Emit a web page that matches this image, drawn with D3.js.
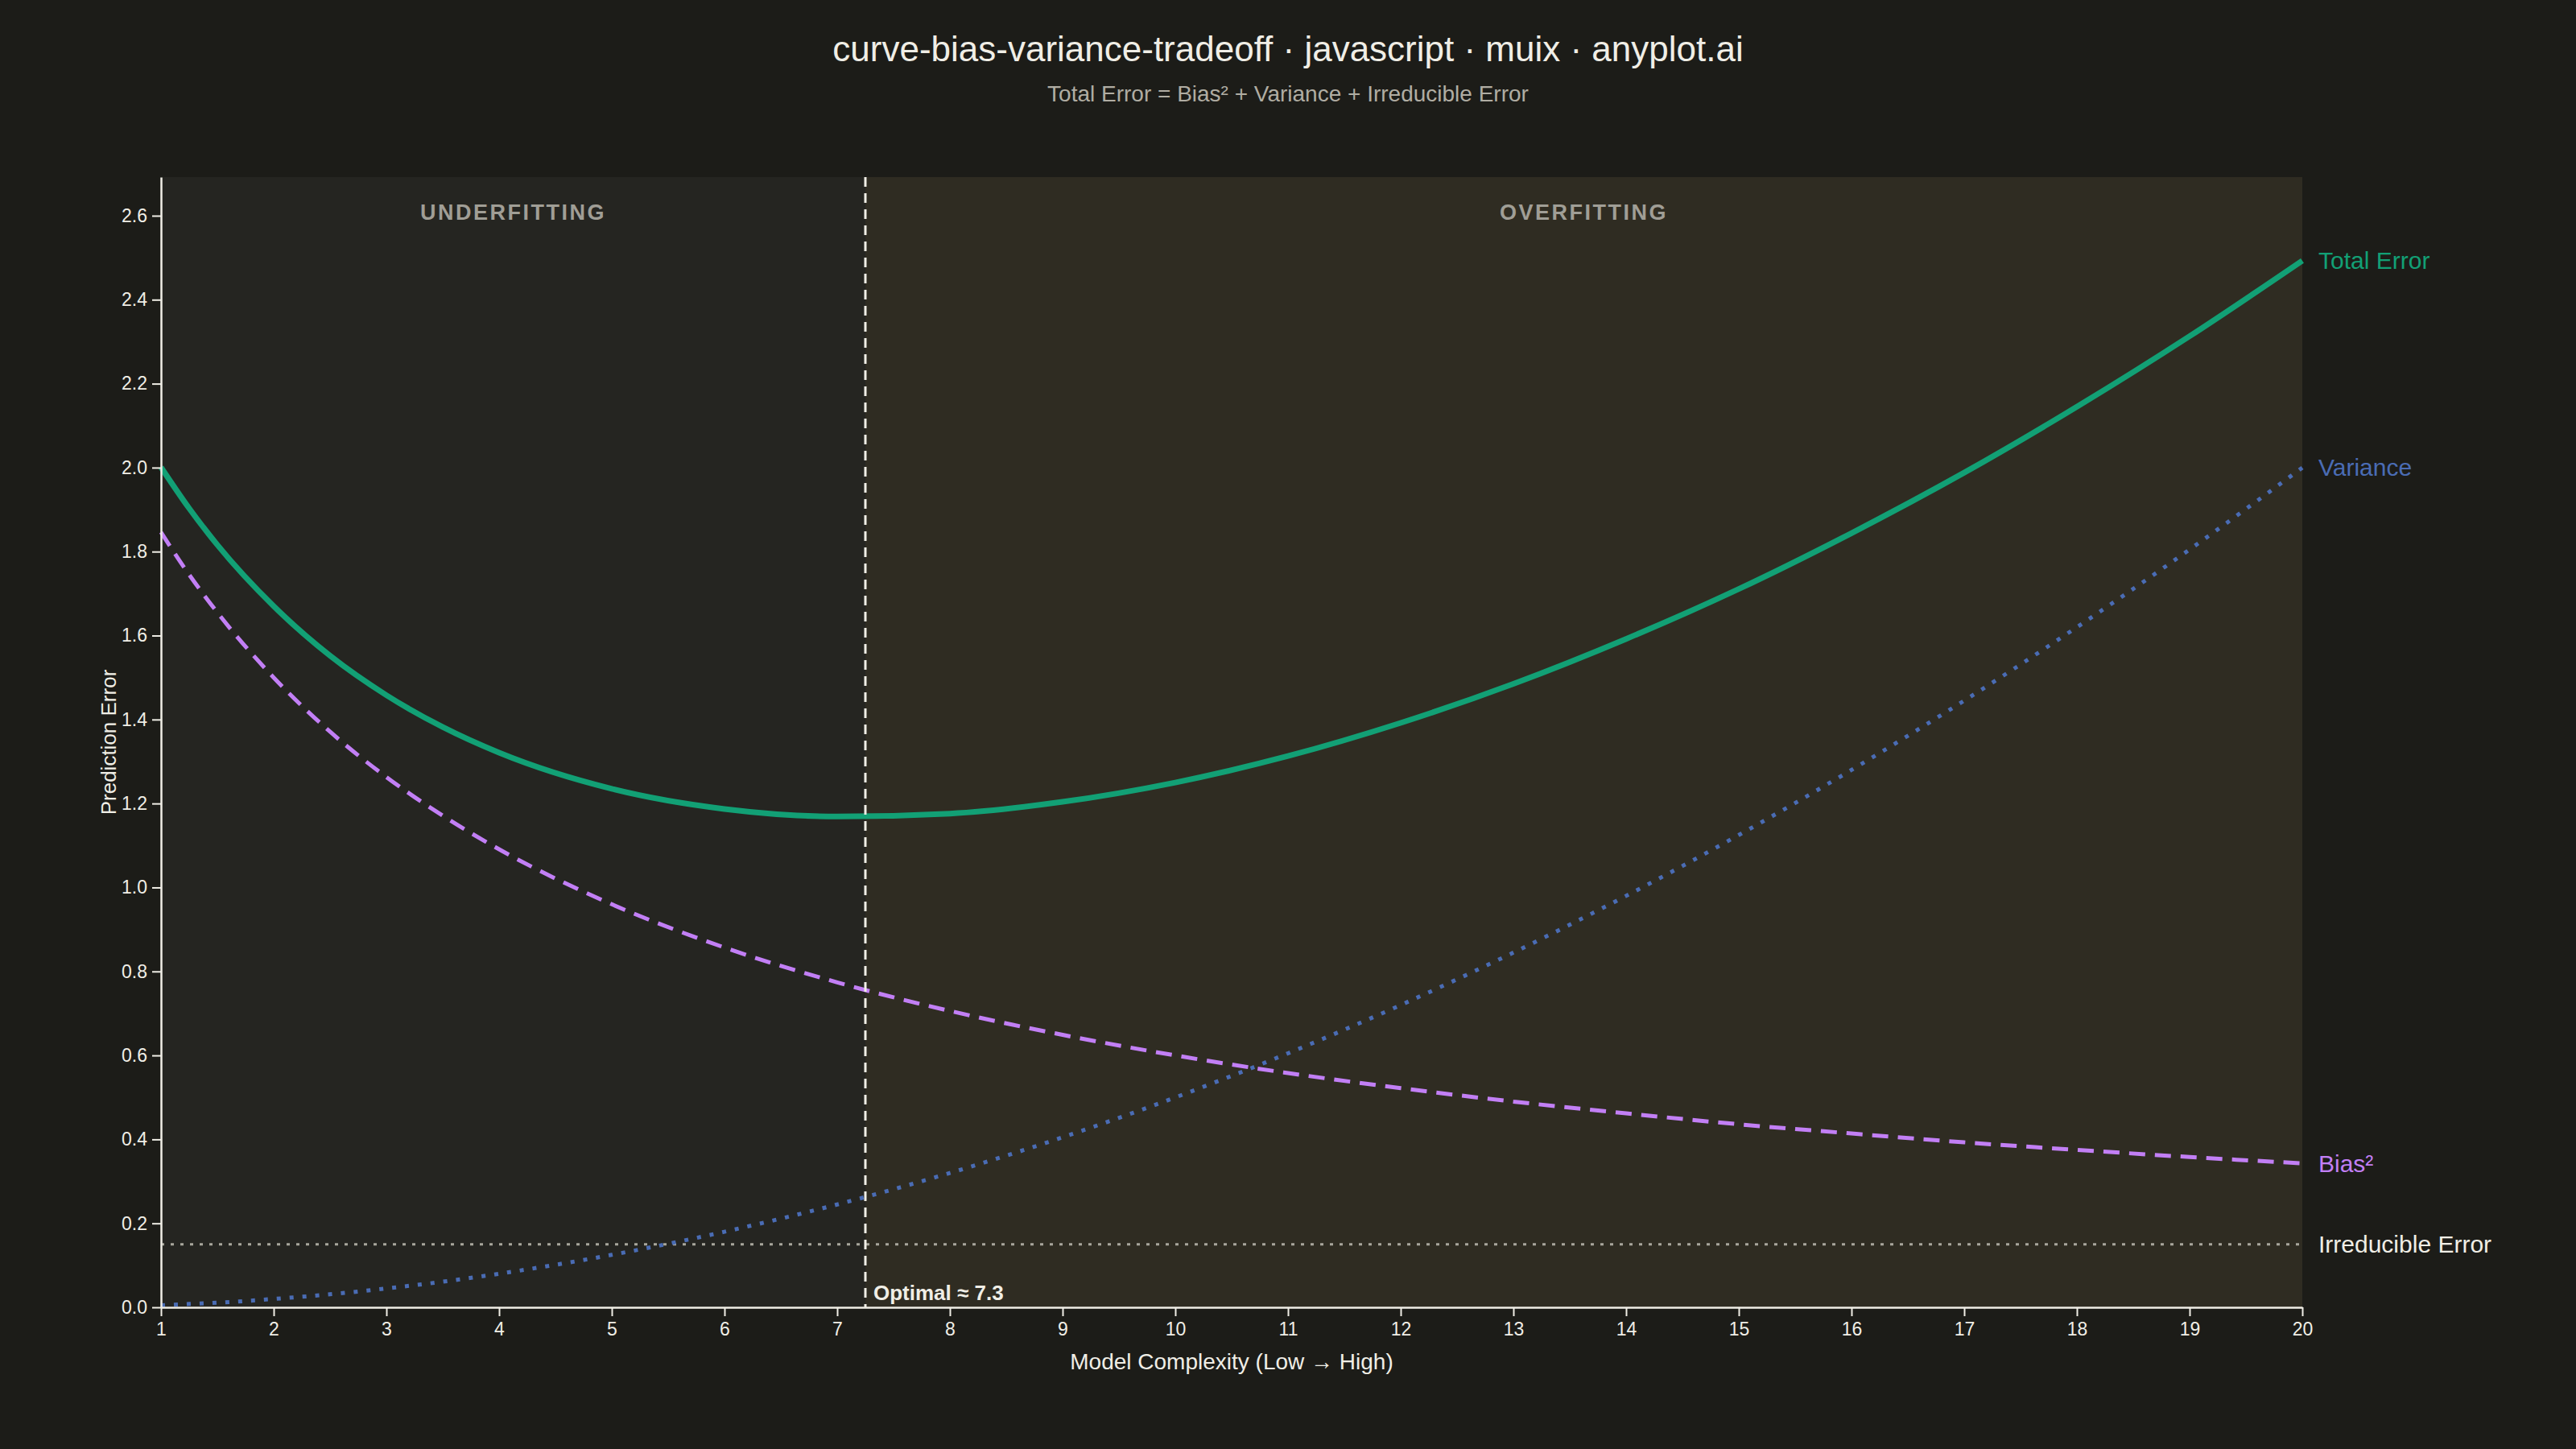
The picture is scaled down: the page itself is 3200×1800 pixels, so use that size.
<!DOCTYPE html>
<html>
<head>
<meta charset="utf-8">
<script src="https://cdn.jsdelivr.net/npm/d3@7"></script>
<style>
    html, body { margin: 0; padding: 0; background: #1c1c18; }
    svg { display: block; font-family: "Liberation Sans", Arial, sans-serif; }
</style>
</head>
<body>
<div id="chart"></div>
<script>

// Data (denser at low complexity where the curves bend most)

const complexity = [1, 1.25, 1.5, 2, 2.5, 3, 3.5, 4, 5, 6, 7, 8, 9, 10, 11, 12, 13, 14, 15, 16, 17, 18, 19, 20];
const biasSquared = [1.846, 1.745, 1.655, 1.500, 1.371, 1.263, 1.171, 1.091, 0.960, 0.857, 0.774, 0.706,
                     0.649, 0.600, 0.558, 0.522, 0.490, 0.462, 0.436, 0.414, 0.393, 0.375, 0.358, 0.343];
const variance = [0.005, 0.008, 0.011, 0.020, 0.031, 0.045, 0.061, 0.080, 0.125, 0.180, 0.245, 0.320,
                  0.405, 0.500, 0.605, 0.720, 0.845, 0.980, 1.125, 1.280, 1.445, 1.620, 1.805, 2.000];
const totalError = [2.001, 1.903, 1.816, 1.670, 1.552, 1.458, 1.382, 1.321, 1.235, 1.187, 1.169, 1.176,
                    1.204, 1.250, 1.313, 1.392, 1.485, 1.592, 1.711, 1.844, 1.988, 2.145, 2.313, 2.493];
const irreducibleError = 0.15;
const optimalComplexity = 7.25;
const yMax = 2.692;
const xTicks = [1, 2, 3, 4, 5, 6, 7, 8, 9, 10, 11, 12, 13, 14, 15, 16, 17, 18, 19, 20];
const yTicks = [0, 0.2, 0.4, 0.6, 0.8, 1.0, 1.2, 1.4, 1.6, 1.8, 2.0, 2.2, 2.4, 2.6];

// Configure

const dimensions = { width: 3200, height: 1800 };
const margin = { top: 220, bottom: 176, left: 200, right: 340 };

const design = {
    text: "#f0eee6",
    muted: "#b0ada3",
    total: "#12a075",
    bias: "#c27ff5",
    variance: "#4a6cb4",
    irreducible: "#a8a69c",
    underfit: "#252521",
    overfit: "#2f2c22",
};

const svg = d3.select("#chart").append("svg")
    .attr("width", dimensions.width)
    .attr("height", dimensions.height);

svg.append("rect")
    .attr("width", dimensions.width)
    .attr("height", dimensions.height)
    .attr("fill", "#1c1c18");

// Scales

const xScale = d3.scaleLinear()
    .domain([1, 20])
    .range([margin.left, dimensions.width - margin.right]);

const yScale = d3.scaleLinear()
    .domain([0, yMax])
    .range([dimensions.height - margin.bottom, margin.top]);

// Region backgrounds

svg.append("rect")
    .attr("x", xScale(1))
    .attr("y", yScale(yMax))
    .attr("width", xScale(optimalComplexity) - xScale(1))
    .attr("height", yScale(0) - yScale(yMax))
    .attr("fill", design.underfit);

svg.append("rect")
    .attr("x", xScale(optimalComplexity))
    .attr("y", yScale(yMax))
    .attr("width", xScale(20) - xScale(optimalComplexity))
    .attr("height", yScale(0) - yScale(yMax))
    .attr("fill", design.overfit);

svg.append("text")
    .attr("x", (xScale(1) + xScale(optimalComplexity)) / 2)
    .attr("y", 273)
    .attr("text-anchor", "middle")
    .attr("fill", "#a09e96")
    .attr("font-size", 27)
    .attr("font-weight", "bold")
    .attr("letter-spacing", 2.5)
    .text("UNDERFITTING");

svg.append("text")
    .attr("x", (xScale(optimalComplexity) + xScale(20)) / 2)
    .attr("y", 273)
    .attr("text-anchor", "middle")
    .attr("fill", "#a09e96")
    .attr("font-size", 27)
    .attr("font-weight", "bold")
    .attr("letter-spacing", 2.5)
    .text("OVERFITTING");

// Irreducible error line

svg.append("line")
    .attr("x1", xScale(1))
    .attr("x2", xScale(20))
    .attr("y1", yScale(irreducibleError))
    .attr("y2", yScale(irreducibleError))
    .attr("stroke", design.irreducible)
    .attr("stroke-width", 3)
    .attr("stroke-dasharray", "4 8");

// Curves

const rows = complexity.map((c, i) => ({
    x: c, bias: biasSquared[i], variance: variance[i], total: totalError[i]
}));

const lineFor = key => d3.line()
    .curve(d3.curveMonotoneX)
    .x(row => xScale(row.x))
    .y(row => yScale(row[key]));

svg.append("path")
    .attr("fill", "none")
    .attr("stroke", design.variance)
    .attr("stroke-width", 5)
    .attr("stroke-dasharray", "5 11")
    .attr("d", lineFor("variance")(rows));

svg.append("path")
    .attr("fill", "none")
    .attr("stroke", design.bias)
    .attr("stroke-width", 5)
    .attr("stroke-dasharray", "20 12")
    .attr("d", lineFor("bias")(rows));

svg.append("path")
    .attr("fill", "none")
    .attr("stroke", design.total)
    .attr("stroke-width", 7)
    .attr("d", lineFor("total")(rows));

// Optimal marker

svg.append("line")
    .attr("x1", xScale(optimalComplexity))
    .attr("x2", xScale(optimalComplexity))
    .attr("y1", yScale(yMax))
    .attr("y2", yScale(0))
    .attr("stroke", design.text)
    .attr("stroke-width", 3)
    .attr("stroke-dasharray", "12 8");

svg.append("text")
    .attr("x", xScale(optimalComplexity) + 10)
    .attr("y", yScale(0) - 9)
    .attr("fill", design.text)
    .attr("font-size", 26)
    .attr("font-weight", "bold")
    .text("Optimal \u2248 7.3");

// Axes

const xAxis = d3.axisBottom(xScale)
    .tickValues(xTicks)
    .tickFormat(d3.format("d"))
    .tickSizeInner(11)
    .tickSizeOuter(0)
    .tickPadding(8);

const yAxis = d3.axisLeft(yScale)
    .tickValues(yTicks)
    .tickFormat(d3.format(".1f"))
    .tickSizeInner(11)
    .tickSizeOuter(0)
    .tickPadding(6);

const gx = svg.append("g")
    .attr("transform", "translate(0, " + yScale(0) + ")")
    .call(xAxis);

const gy = svg.append("g")
    .attr("transform", "translate(" + xScale(1) + ", 0)")
    .call(yAxis);

[gx, gy].forEach(g => {
    g.select(".domain").attr("stroke", design.text).attr("stroke-width", 2.5);
    g.selectAll(".tick line").attr("stroke", design.text).attr("stroke-width", 2);
    g.selectAll(".tick text")
        .attr("fill", design.text)
        .attr("font-size", 23)
        .attr("font-family", "Liberation Sans, Arial, sans-serif");
});

// Axis titles

svg.append("text")
    .attr("x", (xScale(1) + xScale(20)) / 2)
    .attr("y", 1701)
    .attr("text-anchor", "middle")
    .attr("fill", design.text)
    .attr("font-size", 28)
    .text("Model Complexity (Low \u2192 High)");

svg.append("text")
    .attr("transform", "translate(144, " + (yScale(0) + yScale(yMax)) / 2 + ") rotate(-90)")
    .attr("text-anchor", "middle")
    .attr("fill", design.text)
    .attr("font-size", 26)
    .text("Prediction Error");

// Direct labels

const endLabels = [
    { text: "Total Error", value: totalError[totalError.length - 1], color: design.total },
    { text: "Variance", value: variance[variance.length - 1], color: design.variance },
    { text: "Bias\u00b2", value: biasSquared[biasSquared.length - 1], color: design.bias },
    { text: "Irreducible Error", value: irreducibleError, color: design.text },
];

svg.selectAll(".end-label").data(endLabels).enter()
    .append("text")
    .attr("class", "end-label")
    .attr("x", xScale(20) + 20)
    .attr("y", d => yScale(d.value))
    .attr("dy", "0.35em")
    .attr("fill", d => d.color)
    .attr("font-size", 30)
    .text(d => d.text);

// Titles

svg.append("text")
    .attr("x", dimensions.width / 2)
    .attr("y", 76)
    .attr("text-anchor", "middle")
    .attr("fill", design.text)
    .attr("font-size", 44)
    .text("curve-bias-variance-tradeoff \u00b7 javascript \u00b7 muix \u00b7 anyplot.ai");

svg.append("text")
    .attr("x", dimensions.width / 2)
    .attr("y", 126)
    .attr("text-anchor", "middle")
    .attr("fill", design.muted)
    .attr("font-size", 28)
    .text("Total Error = Bias\u00b2 + Variance + Irreducible Error");

</script>
</body>
</html>
